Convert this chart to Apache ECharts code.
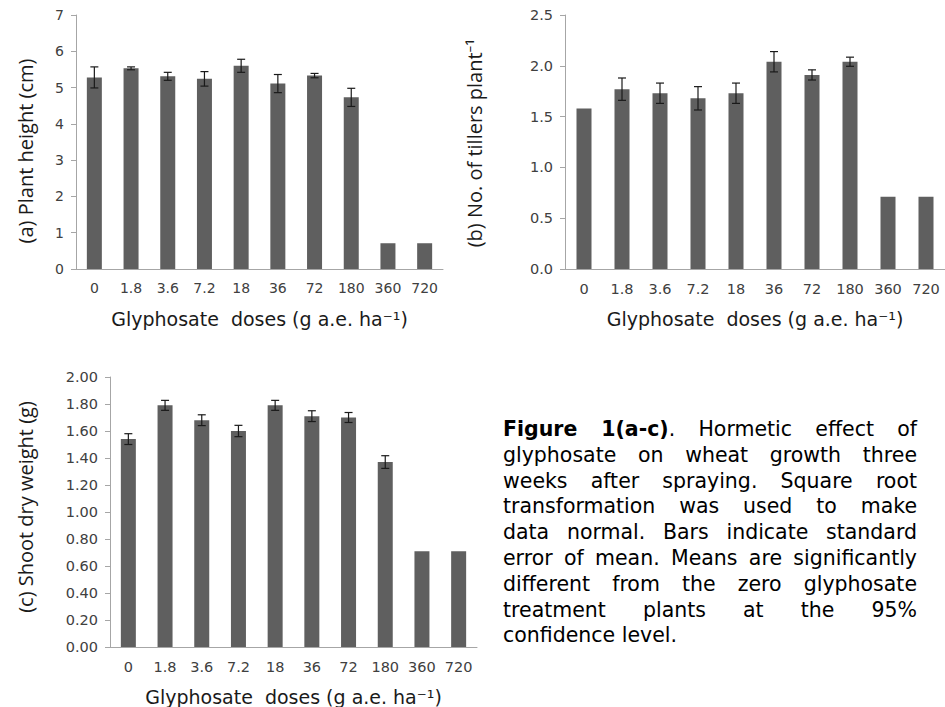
<!DOCTYPE html>
<html>
<head>
<meta charset="utf-8">
<script src="https://cdn.jsdelivr.net/npm/echarts@6/dist/echarts.min.js"></script>
<style>
  html, body { margin: 0; padding: 0; background: #fff; }
  #wrap { position: relative; width: 945px; height: 707px; }
  #chart { position: absolute; left: 0; top: 0; width: 945px; height: 707px; }
  #caption {
    position: absolute; left: 503px; top: 417px; width: 414px;
    font-family: "DejaVu Sans", Verdana, sans-serif; font-size: 20.5px;
    line-height: 25.8px; color: #000;
  }
  #caption div { text-align: justify; text-align-last: justify; white-space: nowrap; }
  #caption div.last { text-align-last: left; }
</style>
</head>
<body>
<div id="wrap">
  <div id="chart"></div>
  <div id="caption">
    <div><b>Figure 1(a-c)</b>. Hormetic effect of</div>
    <div>glyphosate on wheat growth three</div>
    <div>weeks after spraying. Square root</div>
    <div>transformation was used to make</div>
    <div>data normal. Bars indicate standard</div>
    <div>error of mean. Means are significantly</div>
    <div>different from the zero glyphosate</div>
    <div>treatment plants at the 95%</div>
    <div class="last">confidence level.</div>
  </div>
</div>
<script>
// glyphosate doses (g a.e. ha-1)
const doses = ['0', '1.8', '3.6', '7.2', '18', '36', '72', '180', '360', '720'];

// (a) plant height (cm), mean and standard error
const heightMean = [5.28, 5.53, 5.31, 5.24, 5.60, 5.11, 5.33, 4.73, 0.71, 0.71];
const heightSe = [0.29, 0.04, 0.11, 0.20, 0.18, 0.25, 0.06, 0.25, 0, 0];

// (b) tillers per plant
const tillerMean = [1.58, 1.77, 1.73, 1.68, 1.73, 2.04, 1.91, 2.04, 0.71, 0.71];
const tillerSe = [0, 0.11, 0.10, 0.115, 0.10, 0.10, 0.05, 0.045, 0, 0];

// (c) shoot dry weight (g)
const weightMean = [1.54, 1.79, 1.68, 1.60, 1.79, 1.71, 1.70, 1.37, 0.71, 0.71];
const weightSe = [0.04, 0.037, 0.04, 0.042, 0.037, 0.04, 0.037, 0.047, 0, 0];

const xTitle = 'Glyphosate  doses (g a.e. ha\u207B\u00B9)';
const font = '"DejaVu Sans", Verdana, sans-serif';
const axisGrey = '#a6a6a6';
const barColor = '#5f5f5f';

const chart = echarts.init(document.getElementById('chart'), null, { renderer: 'svg' });

// error bars as [index, low, high], skip the ones with no spread
const errData = (mean, se) => mean
  .map((m, i) => [i, m - se[i], m + se[i]])
  .filter((d, i) => se[i] > 0);

const renderErr = (params, api) => {
  const lo = api.coord([api.value(0), api.value(1)]);
  const hi = api.coord([api.value(0), api.value(2)]);
  const w = 4;
  const style = { stroke: '#1a1a1a', lineWidth: 1.2 };
  return {
    type: 'group',
    children: [
      { type: 'line', shape: { x1: hi[0], y1: hi[1], x2: lo[0], y2: lo[1] }, style },
      { type: 'line', shape: { x1: hi[0] - w, y1: hi[1], x2: hi[0] + w, y2: hi[1] }, style },
      { type: 'line', shape: { x1: lo[0] - w, y1: lo[1], x2: lo[0] + w, y2: lo[1] }, style }
    ]
  };
};

const makeX = (idx, size) => ({
  type: 'category',
  gridIndex: idx,
  data: doses,
  name: xTitle,
  nameLocation: 'middle',
  nameGap: 40,
  nameTextStyle: { fontFamily: font, fontSize: 19, color: '#1a1a1a' },
  axisLine: { lineStyle: { color: axisGrey } },
  axisTick: { length: 5, lineStyle: { color: axisGrey } },
  axisLabel: { fontFamily: font, fontSize: size, color: '#404040', margin: 12 }
});

const makeY = (idx, max, interval, digits, size) => ({
  type: 'value',
  gridIndex: idx,
  min: 0,
  max: max,
  interval: interval,
  splitLine: { show: false },
  axisLine: { show: true, lineStyle: { color: axisGrey } },
  axisTick: { show: true, length: 5, lineStyle: { color: axisGrey } },
  axisLabel: {
    fontFamily: font, fontSize: size, color: '#404040', margin: 12,
    formatter: (v) => v.toFixed(digits)
  }
});

const makeBar = (idx, data) => ({
  type: 'bar',
  xAxisIndex: idx,
  yAxisIndex: idx,
  data: data,
  barWidth: 15,
  itemStyle: { color: barColor },
  silent: true
});

const makeErr = (idx, mean, se) => ({
  type: 'custom',
  xAxisIndex: idx,
  yAxisIndex: idx,
  data: errData(mean, se),
  encode: { x: 0, y: [1, 2] },
  renderItem: renderErr,
  z: 5,
  silent: true
});

const yTitle = (x, y, text) => ({
  type: 'text',
  x: x,
  y: y,
  rotation: Math.PI / 2,
  style: {
    text: text,
    fontFamily: '"Open Sans", "Noto Sans", sans-serif',
    fontSize: 20,
    fill: '#1a1a1a',
    align: 'center',
    verticalAlign: 'middle'
  }
});

const option = {
  animation: false,
  backgroundColor: '#fff',
  grid: [
    { left: 76, top: 15, width: 367, height: 254 },
    { left: 565, top: 15, width: 380, height: 254 },
    { left: 110, top: 377, width: 367, height: 270 }
  ],
  xAxis: [makeX(0, 14), makeX(1, 14.5), makeX(2, 14.5)],
  yAxis: [makeY(0, 7, 1, 0, 14), makeY(1, 2.5, 0.5, 1, 14.5), makeY(2, 2, 0.2, 2, 14.5)],
  series: [
    makeBar(0, heightMean), makeErr(0, heightMean, heightSe),
    makeBar(1, tillerMean), makeErr(1, tillerMean, tillerSe),
    makeBar(2, weightMean), makeErr(2, weightMean, weightSe)
  ],
  graphic: [
    yTitle(25, 151, '(a) Plant height (cm)'),
    yTitle(474, 143, '(b) No. of tillers plant\u207B\u00B9'),
    yTitle(25, 507, '(c) Shoot dry weight (g)')
  ]
};

chart.setOption(option);
</script>
</body>
</html>
